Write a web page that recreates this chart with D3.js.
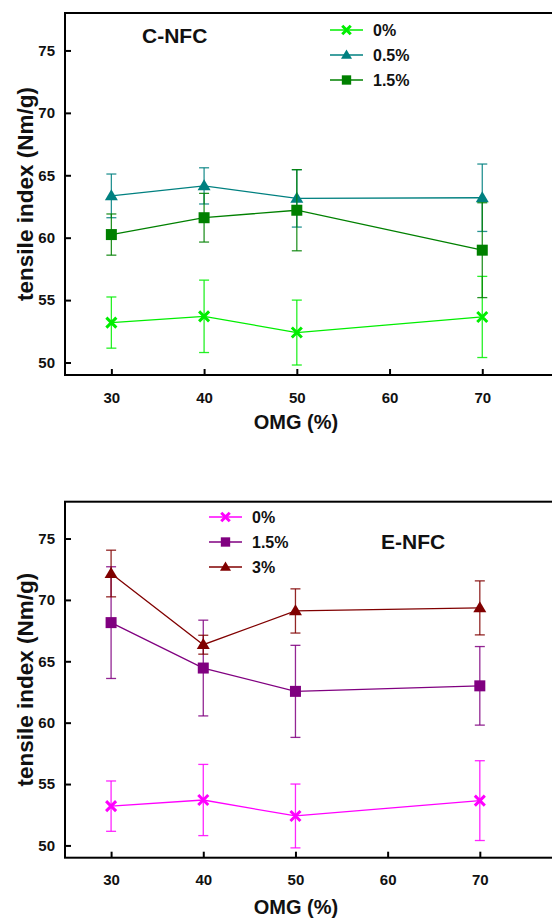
<!DOCTYPE html>
<html><head><meta charset="utf-8">
<script src="https://cdn.jsdelivr.net/npm/d3@7"></script>
<style>body{margin:0;background:#fff;} svg{display:block;font-family:"Liberation Sans",Arial,sans-serif;font-weight:bold;}</style>
</head><body>
<svg id="c" width="552" height="920"></svg>
<script>
const omg = [30, 40, 50, 70];
const xTicks = [30, 40, 50, 60, 70];
const yTicks = [50, 55, 60, 65, 70, 75];

// C-NFC
const cLabels = ["0%", "0.5%", "1.5%"];
const c0 = [53.2, 53.7, 52.4, 53.65];
const c0err = [2.05, 2.9, 2.6, 3.25];
const c05 = [63.35, 64.15, 63.15, 63.2];
const c05err = [1.75, 1.45, 2.3, 2.7];
const c15 = [60.25, 61.6, 62.2, 59.0];
const c15err = [1.65, 1.95, 3.25, 3.8];

// E-NFC
const eLabels = ["0%", "1.5%", "3%"];
const e0 = [53.2, 53.7, 52.4, 53.65];
const e0err = [2.05, 2.9, 2.6, 3.25];
const e15 = [68.15, 64.45, 62.55, 63.0];
const e15err = [4.55, 3.9, 3.75, 3.2];
const e3 = [72.15, 66.35, 69.1, 69.35];
const e3err = [1.9, 0.77, 1.8, 2.2];

const svg = d3.select("#c");

function panel(cfg) {
  const x = d3.scaleLinear().domain([25, 80]).range(cfg.xr);
  const y = d3.scaleLinear().domain([49, 78]).range(cfg.yr);
  const g = svg.append("g");
  const [x0, x1] = cfg.xr, [yb, yt] = cfg.yr;
  g.append("rect").attr("x", x0).attr("y", yt).attr("width", x1 - x0).attr("height", yb - yt)
    .attr("fill", "none").attr("stroke", "#000").attr("stroke-width", 2);
  const xa = g.append("g").attr("transform", `translate(0,${yb})`)
    .call(d3.axisBottom(x).tickValues(xTicks).tickSizeInner(-6).tickSizeOuter(0).tickPadding(17));
  const ya = g.append("g").attr("transform", `translate(${x0},0)`)
    .call(d3.axisLeft(y).tickValues(yTicks).tickSizeInner(-6).tickSizeOuter(0).tickPadding(10));
  [xa, ya].forEach(a => {
    a.select(".domain").remove();
    a.selectAll("line").attr("stroke", "#000").attr("stroke-width", 2);
    a.selectAll("text").attr("font-size", 15).attr("font-weight", "bold")
      .attr("font-family", "Liberation Sans, Arial, sans-serif").attr("fill", "#111");
  });
  g.append("text").attr("transform", `translate(${cfg.ylabX},${(yb + yt) / 2}) rotate(-90)`)
    .attr("text-anchor", "middle").attr("font-size", 22.5).attr("fill", "#111").text("tensile index (Nm/g)");
  g.append("text").attr("x", 296).attr("y", cfg.xlabY).attr("text-anchor", "middle")
    .attr("font-size", 20).attr("fill", "#111").text("OMG (%)");
  g.append("text").attr("x", cfg.title[0]).attr("y", cfg.title[1]).attr("font-size", 21)
    .attr("fill", "#111").text(cfg.title[2]);

  const line = d3.line().x((d, i) => x(omg[i])).y(d => y(d));
  cfg.series.forEach(s => {
    const sg = g.append("g");
    s.vals.forEach((v, i) => {
      const cx = x(omg[i]), t = y(v + s.err[i]), b = y(v - s.err[i]);
      sg.append("line").attr("x1", cx).attr("x2", cx).attr("y1", t).attr("y2", b)
        .attr("stroke", s.color).attr("stroke-width", 1.3).attr("stroke-opacity", 0.85);
      [t, b].forEach(yy => sg.append("line").attr("x1", cx - 5).attr("x2", cx + 5).attr("y1", yy).attr("y2", yy)
        .attr("stroke", s.color).attr("stroke-width", 1.3).attr("stroke-opacity", 0.85));
    });
    sg.append("path").datum(s.vals).attr("d", line).attr("fill", "none")
      .attr("stroke", s.color).attr("stroke-width", 1.3);
    s.vals.forEach((v, i) => marker(sg, s.shape, x(omg[i]), y(v), s.color));
  });
  cfg.series.forEach((s, i) => {
    const ly = cfg.leg[1] + i * cfg.leg[2];
    const lx = cfg.leg[0];
    g.append("line").attr("x1", lx).attr("x2", lx + 33).attr("y1", ly).attr("y2", ly)
      .attr("stroke", s.color).attr("stroke-width", 1.3);
    marker(g, s.shape, lx + 16.5, ly, s.color, 0.85);
    g.append("text").attr("x", lx + 43).attr("y", ly + 5.5).attr("font-size", 16).attr("fill", "#111").text(s.label);
  });
}

function marker(g, shape, cx, cy, color, k = 1) {
  if (shape === "x") {
    const r = 5 * k;
    g.append("path").attr("d", `M${cx - r},${cy - r}L${cx + r},${cy + r}M${cx - r},${cy + r}L${cx + r},${cy - r}`)
      .attr("stroke", color).attr("stroke-width", 3).attr("fill", "none");
  } else if (shape === "tri") {
    const w = 6.5 * k, h = 11 * k;
    g.append("path").attr("d", `M${cx},${cy - h * 0.6}L${cx + w},${cy + h * 0.4}L${cx - w},${cy + h * 0.4}Z`)
      .attr("fill", color);
  } else {
    const r = 5.5 * k;
    g.append("rect").attr("x", cx - r).attr("y", cy - r).attr("width", 2 * r).attr("height", 2 * r).attr("fill", color);
  }
}

panel({
  xr: [65, 575], yr: [375, 13], ylabX: 33, xlabY: 429,
  title: [142, 43, "C-NFC"], leg: [330, 30, 25],
  series: [
    {label: cLabels[0], vals: c0, err: c0err, color: "#00ee00", shape: "x"},
    {label: cLabels[1], vals: c05, err: c05err, color: "#008080", shape: "tri"},
    {label: cLabels[2], vals: c15, err: c15err, color: "#008000", shape: "sq"}
  ]
});
panel({
  xr: [65, 572], yr: [857.7, 501.7], ylabX: 33, xlabY: 914,
  title: [381, 549, "E-NFC"], leg: [209, 517, 25],
  series: [
    {label: eLabels[0], vals: e0, err: e0err, color: "#ff00ff", shape: "x"},
    {label: eLabels[1], vals: e15, err: e15err, color: "#800080", shape: "sq"},
    {label: eLabels[2], vals: e3, err: e3err, color: "#800000", shape: "tri"}
  ]
});
</script>
</body></html>
